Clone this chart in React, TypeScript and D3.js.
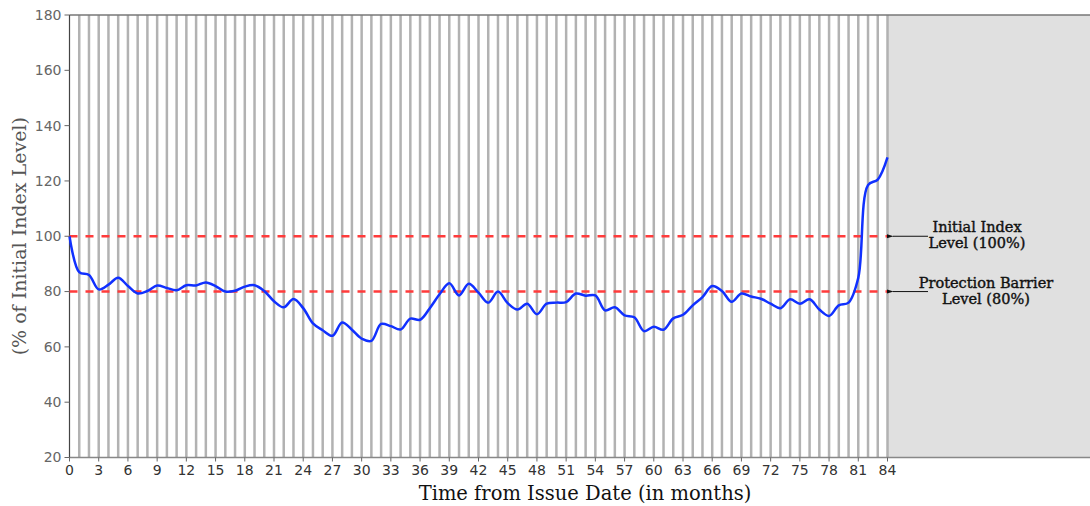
import React from 'react';
import * as d3 from 'd3';

// index level (% of initial) at each month from issue date
const months = d3.range(0, 85);
const levels = [
  100, 87, 86, 80.8, 82.5, 85, 82, 79.3, 80.2, 82.2,
  81.3, 80.5, 82.3, 82.2, 83.3, 82, 80, 80.3, 81.8, 82.3,
  80.2, 76.5, 74.3, 77.3, 74, 68.5, 66, 64, 68.8, 66.2,
  63, 62.2, 68.3, 67.5, 66.3, 70.2, 69.8, 74, 79, 83,
  78.6, 82.8, 79.6, 76, 80, 75.8, 73.5, 75.6, 71.8, 75.6,
  76, 76.2, 79.3, 78.5, 78.6, 73.2, 74.3, 71.4, 70.7, 65.7,
  67.3, 66.2, 70.3, 71.6, 75, 78, 82, 80.2, 76.3, 79.3,
  78.2, 77.4, 75.6, 74, 77.2, 75.6, 77.2, 73.5, 71.2, 75,
  76, 85, 118.5, 120.5, 128.5,
];
const yTicks = [20, 40, 60, 80, 100, 120, 140, 160, 180];
const xTicks = d3.range(0, 85, 3);
const refLevels = [
  { value: 100, lines: ['Initial Index', 'Level (100%)'], cx: 977 },
  { value: 80, lines: ['Protection Barrier', 'Level (80%)'], cx: 986 },
];

const W = 1090;
const H = 506;
const left = 69.5;
const plotRight = 887.5;
const top = 15;
const bottom = 457.5;

export default function App() {
  const x = d3.scaleLinear().domain([0, 84]).range([left, plotRight]);
  const y = d3.scaleLinear().domain([20, 180]).range([bottom, top]);

  const line = d3
    .line<number>()
    .x((_, i) => x(months[i]))
    .y((d) => y(d))
    .curve(d3.curveCatmullRom.alpha(0.5));

  return (
    <svg
      width={W}
      height={H}
      style={{ position: 'absolute', left: 0, top: 0, display: 'block' }}
    >
      {/* grey area after maturity */}
      <rect x={plotRight} y={top} width={W - plotRight} height={bottom - top} fill="#e0e0e0" />

      {/* monthly stripes */}
      {months.slice(1).map((m) => (
        <line
          key={m}
          x1={x(m)}
          x2={x(m)}
          y1={top}
          y2={bottom}
          stroke="#b2b2b2"
          strokeWidth={2.5}
        />
      ))}

      {/* frame */}
      <line x1={left} x2={W} y1={top} y2={top} stroke="#777" strokeWidth={1.5} />
      <line x1={left} x2={W} y1={bottom} y2={bottom} stroke="#888" strokeWidth={1.5} />
      <line x1={left} x2={left} y1={top} y2={bottom} stroke="#444" strokeWidth={1.2} />

      {/* reference levels */}
      {refLevels.map((r) => (
        <line
          key={r.value}
          x1={left}
          x2={plotRight}
          y1={y(r.value)}
          y2={y(r.value)}
          stroke="#ff3b3b"
          strokeWidth={2.5}
          strokeDasharray="8,8"
        />
      ))}

      <path d={line(levels) || ''} fill="none" stroke="#1030ff" strokeWidth={2.5} />

      {/* y axis */}
      {yTicks.map((t) => (
        <g key={t}>
          <line x1={left - 5} x2={left} y1={y(t)} y2={y(t)} stroke="#666" />
          <text
            x={left - 8}
            y={y(t)}
            dy="0.35em"
            textAnchor="end"
            fontFamily="DejaVu Sans"
            fontSize={14}
            fill="#666"
          >
            {t}
          </text>
        </g>
      ))}

      {/* x axis */}
      {xTicks.map((t) => (
        <g key={t}>
          <line x1={x(t)} x2={x(t)} y1={bottom} y2={bottom + 4} stroke="#666" />
          <text
            x={x(t)}
            y={bottom + 17}
            textAnchor="middle"
            fontFamily="DejaVu Sans"
            fontSize={14}
            fill="#333"
          >
            {t}
          </text>
        </g>
      ))}

      <text
        x={585}
        y={500}
        textAnchor="middle"
        fontFamily="DejaVu Serif"
        fontSize={19.5}
        fill="#111"
      >
        Time from Issue Date (in months)
      </text>
      <text
        transform={`translate(26,${(top + bottom) / 2}) rotate(-90)`}
        textAnchor="middle"
        fontFamily="DejaVu Serif"
        fontSize={19}
        fill="#555"
      >
        (% of Initial Index Level)
      </text>

      {/* annotations */}
      <defs>
        <marker id="arr" viewBox="0 0 10 10" refX={1} refY={5} markerWidth={7} markerHeight={7} orient="auto">
          <path d="M10,2 L0,5 L10,8 Z" fill="#111" />
        </marker>
      </defs>
      {refLevels.map((r) => (
        <g key={r.value}>
          <line
            x1={928}
            x2={893}
            y1={y(r.value)}
            y2={y(r.value)}
            stroke="#111"
            strokeWidth={1}
            markerEnd="url(#arr)"
          />
          {r.lines.map((s, i) => (
            <text
              key={s}
              x={r.cx}
              y={y(r.value) - 4 + i * 16}
              textAnchor="middle"
              fontFamily="DejaVu Serif"
              fontSize={14.5}
              fill="#111"
              stroke="#111"
              strokeWidth={0.4}
            >
              {s}
            </text>
          ))}
        </g>
      ))}
    </svg>
  );
}
